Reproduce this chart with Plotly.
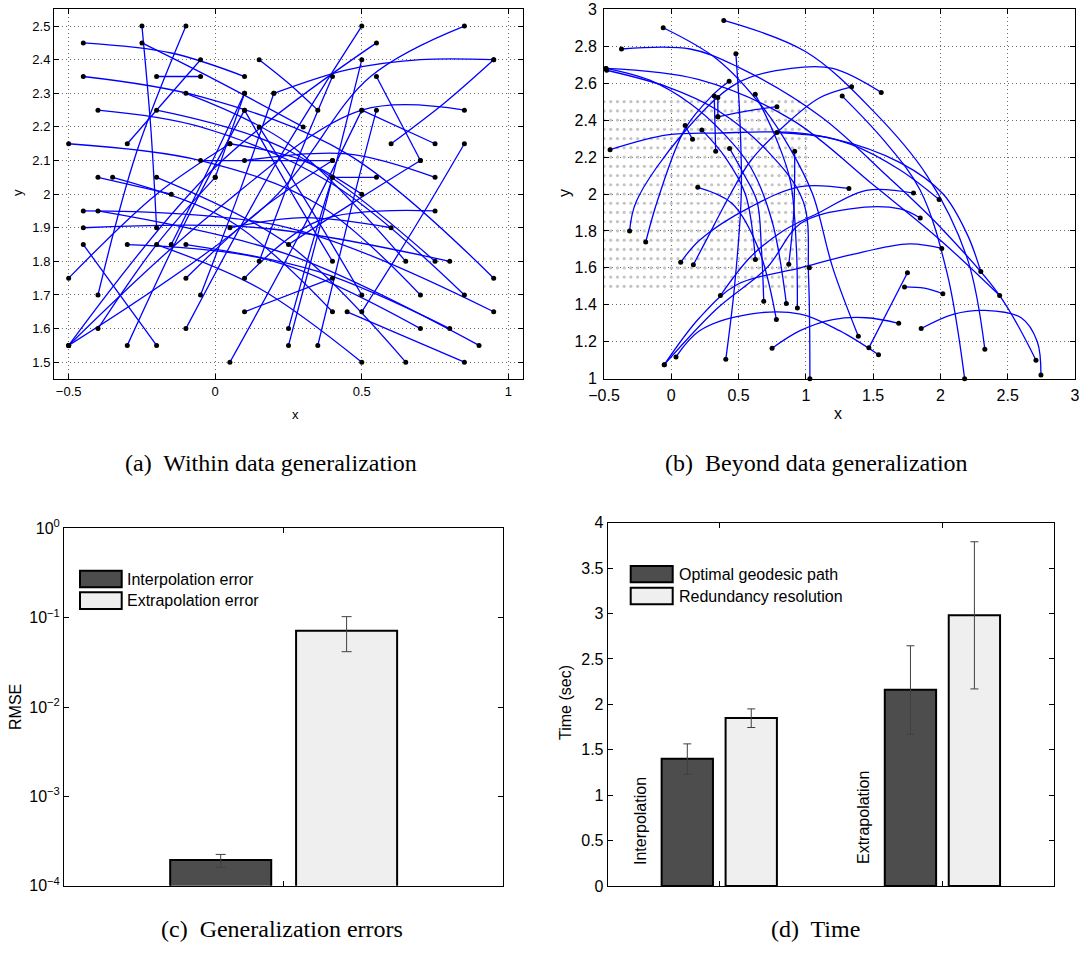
import plotly.graph_objects as go

W, H = 1085, 957

# ---------------- Panel (a): within-data generalization paths ----------------
A_PATH_X = [
    [-0.25, -0.22, -0.2], [-0.1, -0.27, -0.4], [-0.45, -0.15, 0.1], [-0.25, 0.0, 0.3],
    [0.15, 0.25, 0.35], [-0.2, -0.05], [-0.3, -0.05], [-0.45, -0.05, 0.45, 0.95],
    [-0.1, 0.25, 0.65], [0.1, 0.0], [0.2, 0.45, 0.7, 0.95], [-0.4, -0.05, 0.4, 0.85],
    [-0.2, 0.25, 0.75], [0.1, 0.25, 0.4], [0.15, 0.33, 0.5], [-0.5, -0.05, 0.35, 0.7],
    [-0.05, 0.15, 0.4], [-0.4, -0.15], [-0.35, 0.05, 0.4], [-0.2, 0.25, 0.65],
    [0.25, 0.38, 0.5], [0.35, 0.47, 0.55], [0.55, 0.7], [0.95, 0.78, 0.6],
    [0.5, 0.75], [-0.5, 0.0, 0.5, 0.85], [-0.5, 0.19, 0.53, 0.85], [-0.5, 0.0, 0.55],
    [0.85, 0.68, 0.5], [-0.45, 0.15, 0.8], [0.4, 0.55], [0.1, 0.4],
    [0.1, 0.35, 0.75], [0.15, 0.28, 0.4], [0.05, 0.3, 0.6], [0.05, 0.3, 0.5],
    [-0.1, 0.15, 0.4], [-0.1, 0.2, 0.5], [-0.5, -0.2, 0.05], [-0.45, 0.25, 0.95],
    [-0.4, 0.25, 0.9], [-0.45, -0.2], [-0.3, 0.2, 0.7], [-0.15, -0.02, 0.1],
    [-0.1, 0.35, 0.8], [-0.2, 0.15, 0.5], [0.25, 0.48, 0.7], [-0.4, -0.2, 0.0],
    [-0.3, -0.1, 0.1], [0.25, 0.33, 0.4], [0.45, 0.85], [-0.05, 0.08, 0.2],
    [0.05, 0.3, 0.5], [0.1, 0.45, 0.75],
]
A_PATH_Y = [
    [2.5, 2.2, 1.9], [2.5, 2.12, 1.7], [2.45, 2.42, 2.35], [2.45, 2.34, 2.2],
    [2.4, 2.33, 2.25], [2.35, 2.35], [2.15, 2.4], [2.35, 2.29, 2.12, 1.75],
    [2.3, 2.15, 1.8], [2.3, 2.05], [2.3, 2.37, 2.4, 2.4], [2.25, 2.2, 2.03, 1.7],
    [2.25, 2.13, 1.8], [2.25, 2.02, 1.8], [2.2, 1.95, 1.7], [2.15, 2.1, 1.97, 1.7],
    [2.1, 2.1, 2.1], [2.05, 2.0], [2.05, 1.92, 1.65], [2.05, 1.85, 1.5],
    [1.55, 1.98, 2.4], [1.55, 1.98, 2.25], [2.35, 2.1], [2.4, 2.27, 2.15],
    [2.25, 2.15], [1.55, 1.95, 2.25, 2.25], [1.55, 1.98, 2.35, 2.5], [1.55, 2.08, 2.45],
    [2.15, 1.9, 1.65], [1.9, 1.9, 1.8], [2.05, 2.05], [1.65, 1.75],
    [1.75, 1.92, 1.95], [1.8, 2.1, 2.35], [1.9, 1.93, 1.9], [1.5, 1.9, 2.25],
    [1.75, 1.95, 2.1], [1.6, 2.08, 2.5], [1.75, 2.0, 2.15], [1.95, 1.9, 1.65],
    [1.95, 1.82, 1.55], [1.85, 1.55], [1.85, 1.8, 1.6], [1.85, 2.08, 2.3],
    [1.85, 1.77, 1.6], [1.85, 1.72, 1.5], [1.85, 1.98, 2.1], [1.6, 1.85, 2.05],
    [1.55, 1.92, 2.25], [1.6, 1.85, 2.05], [1.65, 1.5], [1.7, 2.0, 2.3],
    [2.15, 2.1, 2.0], [2.1, 2.12, 2.05],
]

# ---------------- Panel (b): beyond-data generalization paths ----------------
B_PATH_X = [
    [0.39, 1.0, 1.5, 1.9, 2.2, 2.33],
    [-0.06, 0.34, 0.69, 0.88, 1.05, 1.2, 1.39],
    [-0.37, 0.14, 0.49, 1.11, 1.6, 2.0, 2.44, 2.71],
    [-0.48, -0.03, 0.34, 0.71, 0.98, 1.02, 1.03],
    [-0.485, -0.16, 0.14, 0.39, 0.59, 0.75, 0.855],
    [-0.455, -0.03, 0.34, 0.96, 1.33, 1.70, 1.99],
    [-0.31, -0.26, 0.09, 0.49, 0.89, 1.2, 1.56],
    [-0.19, -0.1, 0.1, 0.3, 0.43],
    [0.07, 0.21, 0.59, 0.96, 1.32],
    [0.164, 0.26, 0.44, 0.59, 0.84, 1.1, 1.34],
    [1.27, 1.58, 1.85, 2.05, 2.18],
    [0.346, 0.57, 0.785],
    [0.319, 0.33],
    [0.48, 0.51, 0.52, 0.47, 0.405],
    [0.624, 0.785, 0.885, 0.93, 0.937],
    [0.785, 1.2, 1.7, 2.02, 2.2, 2.30],
    [0.917, 0.91, 0.873],
    [0.433, 0.537, 0.637, 0.67, 0.687],
    [0.227, 0.4, 0.55, 0.625],
    [0.103, 0.158],
    [0.197, 0.45, 0.65, 0.781],
    [0.346, 0.346],
    [0.365, 0.59, 0.83, 1.1, 1.45, 1.80],
    [-0.052, 0.34, 0.71, 0.96, 1.33, 1.70, 1.85],
    [-0.052, 0.21, 0.49, 0.96, 1.33, 1.77, 2.01],
    [0.035, 0.21, 0.585, 0.96, 1.25, 1.54],
    [0.749, 0.957, 1.2, 1.45, 1.69],
    [1.468, 1.755],
    [1.733, 1.88, 2.018],
    [1.857, 2.1, 2.33, 2.6, 2.72, 2.747],
    [-0.485, 0.2, 0.9, 1.5, 2.0, 2.44],
]
B_PATH_Y = [
    [2.94, 2.77, 2.45, 2.1, 1.65, 1.16],
    [2.90, 2.73, 2.46, 2.25, 2.0, 1.6, 1.23],
    [2.785, 2.785, 2.69, 2.42, 2.1, 1.82, 1.45, 1.10],
    [2.67, 2.58, 2.455, 2.236, 1.96, 1.55, 1.0],
    [2.68, 2.616, 2.49, 2.327, 2.145, 1.85, 1.407],
    [2.24, 2.32, 2.33, 2.33, 2.27, 2.13, 1.97],
    [1.80, 1.96, 2.33, 2.6, 2.68, 2.68, 2.55],
    [1.74, 1.97, 2.35, 2.53, 2.61],
    [1.63, 1.75, 1.93, 2.04, 2.03],
    [1.617, 1.75, 2.0, 2.18, 2.37, 2.52, 2.58],
    [2.53, 2.29, 2.02, 1.57, 1.0],
    [2.418, 2.45, 2.473],
    [2.531, 2.231],
    [2.76, 2.4, 2.0, 1.5, 1.105],
    [2.54, 2.29, 2.07, 1.7, 1.383],
    [2.333, 2.3, 2.17, 2.0, 1.78, 1.58],
    [2.231, 1.9, 1.62],
    [2.247, 2.11, 1.96, 1.7, 1.42],
    [2.347, 2.2, 2.0, 1.646],
    [2.371, 2.296],
    [2.036, 1.95, 1.7, 1.32],
    [2.522, 2.418],
    [1.45, 1.66, 1.80, 1.9, 2.02, 2.005],
    [1.076, 1.38, 1.6, 1.84, 1.92, 1.92, 1.87],
    [1.076, 1.33, 1.51, 1.6, 1.67, 1.73, 1.705],
    [1.118, 1.26, 1.35, 1.35, 1.26, 1.13],
    [1.165, 1.26, 1.32, 1.33, 1.30],
    [1.167, 1.574],
    [1.497, 1.49, 1.46],
    [1.272, 1.35, 1.37, 1.33, 1.2, 1.02],
    [2.68, 2.62, 2.4, 2.05, 1.75, 1.45],
]
B_EXTRA_DOT_X = [1.026]
B_EXTRA_DOT_Y = [1.601]

# training-data grid shown in grey in panel (b)
GRID_X = [-0.5, -0.45, -0.4, -0.35, -0.3, -0.25, -0.2, -0.15, -0.1, -0.05, 0.0,
          0.05, 0.1, 0.15, 0.2, 0.25, 0.3, 0.35, 0.4, 0.45, 0.5, 0.55, 0.6, 0.65,
          0.7, 0.75, 0.8, 0.85, 0.9, 0.95, 1.0]
GRID_Y = [1.5, 1.55, 1.6, 1.65, 1.7, 1.75, 1.8, 1.85, 1.9, 1.95, 2.0, 2.05, 2.1,
          2.15, 2.2, 2.25, 2.3, 2.35, 2.4, 2.45, 2.5]

# ---------------- Panel (c): RMSE ----------------
C_SERIES = ["Interpolation error", "Extrapolation error"]
C_VALUES = [1.94e-4, 0.0715]
C_ERR_PLUS = [0.30e-4, 0.0311]
C_ERR_MINUS = [0.33e-4, 0.0299]
C_YTICK_VALS = [1e-4, 1e-3, 1e-2, 1e-1, 1e0]
C_YTICK_TEXT = ["10<sup>−4</sup>", "10<sup>−3</sup>", "10<sup>−2</sup>",
                "10<sup>−1</sup>", "10<sup>0</sup>"]

# ---------------- Panel (d): Time ----------------
D_GROUPS = ["Interpolation", "Extrapolation"]
D_SERIES = ["Optimal geodesic path", "Redundancy resolution"]
D_GEO = [1.40, 2.16]
D_GEO_PLUS = [0.165, 0.485]
D_GEO_MINUS = [0.17, 0.49]
D_RED = [1.85, 2.98]
D_RED_PLUS = [0.10, 0.81]
D_RED_MINUS = [0.105, 0.81]

DARK = "#4d4d4d"
LIGHT = "#efefef"
BLUE = "#0000ff"


def px(x):
    return x / W


def py(y):
    return 1 - y / H


fig = go.Figure()

# panel (a) curves
for xs, ys in zip(A_PATH_X, A_PATH_Y):
    fig.add_trace(go.Scatter(x=xs, y=ys, mode="lines", line=dict(color=BLUE, width=1.3, shape="spline"),
                             xaxis="x", yaxis="y", showlegend=False, hoverinfo="skip"))
a_dx = [p for xs in A_PATH_X for p in (xs[0], xs[-1])]
a_dy = [p for ys in A_PATH_Y for p in (ys[0], ys[-1])]
fig.add_trace(go.Scatter(x=a_dx, y=a_dy, mode="markers", marker=dict(color="black", size=5),
                         xaxis="x", yaxis="y", showlegend=False, cliponaxis=False))

# panel (b) grey grid
gx = [x for y in GRID_Y for x in GRID_X]
gy = [y for y in GRID_Y for x in GRID_X]
fig.add_trace(go.Scatter(x=gx, y=gy, mode="markers", marker=dict(color="#c4c4c4", size=3.2),
                         xaxis="x2", yaxis="y2", showlegend=False, hoverinfo="skip"))
for xs, ys in zip(B_PATH_X, B_PATH_Y):
    fig.add_trace(go.Scatter(x=xs, y=ys, mode="lines", line=dict(color=BLUE, width=1.3, shape="spline"),
                             xaxis="x2", yaxis="y2", showlegend=False, hoverinfo="skip"))
b_dx = [p for xs in B_PATH_X for p in (xs[0], xs[-1])] + B_EXTRA_DOT_X
b_dy = [p for ys in B_PATH_Y for p in (ys[0], ys[-1])] + B_EXTRA_DOT_Y
fig.add_trace(go.Scatter(x=b_dx, y=b_dy, mode="markers", marker=dict(color="black", size=5),
                         xaxis="x2", yaxis="y2", showlegend=False, cliponaxis=False))

# panel (c) bars
BAR_W = 0.23
OFF = 0.1433
for i, (name, col) in enumerate(zip(C_SERIES, [DARK, LIGHT])):
    fig.add_trace(go.Bar(
        x=[1], y=[C_VALUES[i]], width=[BAR_W], offset=[(-OFF if i == 0 else OFF) - BAR_W / 2],
        marker=dict(color=col, line=dict(color="black", width=2)),
        error_y=dict(type="data", array=[C_ERR_PLUS[i]], arrayminus=[C_ERR_MINUS[i]],
                     color="#404040", thickness=1, width=5),
        xaxis="x3", yaxis="y3", showlegend=False, name=name))

# panel (d) bars
for i, (name, col, vals, ep, em) in enumerate(zip(
        D_SERIES, [DARK, LIGHT], [D_GEO, D_RED], [D_GEO_PLUS, D_RED_PLUS], [D_GEO_MINUS, D_RED_MINUS])):
    fig.add_trace(go.Bar(
        x=[1, 2], y=vals, width=[BAR_W] * 2,
        offset=[(-OFF if i == 0 else OFF) - BAR_W / 2] * 2,
        marker=dict(color=col, line=dict(color="black", width=2)),
        error_y=dict(type="data", array=ep, arrayminus=em, color="#404040", thickness=1, width=4),
        xaxis="x4", yaxis="y4", showlegend=False, name=name))

axis_common = dict(showline=True, linecolor="black", linewidth=1, mirror="ticks",
                   ticks="inside", ticklen=5, tickcolor="black", zeroline=False,
                   automargin=False)
grid_common = dict(showgrid=True, gridcolor="#6a6a6a", griddash="1px,3px", gridwidth=1)

fig.update_layout(
    width=W, height=H, margin=dict(l=0, r=0, t=0, b=0, pad=0, autoexpand=False),
    paper_bgcolor="white", plot_bgcolor="white",
    font=dict(family="Liberation Sans, Arial, sans-serif", color="black"),
    barmode="overlay", showlegend=False,
    xaxis=dict(domain=[px(54), px(523)], range=[-0.55, 1.05], anchor="y",
               tickvals=[-0.5, 0, 0.5, 1], ticktext=["−0.5", "0", "0.5", "1"],
               tickfont=dict(size=13), **axis_common, **grid_common),
    yaxis=dict(domain=[py(379), py(9.3)], range=[1.45, 2.55], anchor="x",
               dtick=0.1, tick0=1.5, tickfont=dict(size=13), **axis_common, **grid_common),
    xaxis2=dict(domain=[px(604), px(1075)], range=[-0.5, 3], anchor="y2", dtick=0.5,
                tickfont=dict(size=16), ticklabelstandoff=2, **axis_common, **grid_common),
    yaxis2=dict(domain=[py(378.7), py(9.3)], range=[1, 3], anchor="x2", dtick=0.2,
                tickfont=dict(size=16), ticklabelstandoff=3, **axis_common, **grid_common),
    xaxis3=dict(domain=[px(64), px(503.3)], range=[0.5, 1.5], anchor="y3",
                tickvals=[1], showticklabels=False, showgrid=False, **axis_common),
    yaxis3=dict(domain=[py(885.7), py(528.3)], type="log", range=[-4, 0], anchor="x3",
                tickvals=C_YTICK_VALS, ticktext=C_YTICK_TEXT, tickfont=dict(size=16),
                showgrid=False, **axis_common),
    xaxis4=dict(domain=[px(607.7), px(1054)], range=[0.5, 2.5], anchor="y4",
                tickvals=[1, 2], showticklabels=False, showgrid=False, **axis_common),
    yaxis4=dict(domain=[py(886), py(522.7)], range=[0, 4], anchor="x4", dtick=0.5,
                tickfont=dict(size=16), showgrid=False, **axis_common),
)

ann = []
shapes = []
# axis titles
ann.append(dict(x=px(295), y=py(414), text="x", font=dict(size=13)))
ann.append(dict(x=px(17), y=py(193), text="y", font=dict(size=13), textangle=-90))
ann.append(dict(x=px(838), y=py(413), text="x", font=dict(size=16)))
ann.append(dict(x=px(564), y=py(193), text="y", font=dict(size=16), textangle=-90))
ann.append(dict(x=px(15), y=py(707), text="RMSE", font=dict(size=16), textangle=-90))
ann.append(dict(x=px(565), y=py(703), text="Time (sec)", font=dict(size=16), textangle=-90))
# group labels in (d)
ann.append(dict(x=px(640), y=py(821), text=D_GROUPS[0], font=dict(size=16), textangle=-90))
ann.append(dict(x=px(863), y=py(818), text=D_GROUPS[1], font=dict(size=16), textangle=-90))

# manual legends
def legend(x0, x1, rows, texts, tx):
    for (y0, y1), col, t in zip(rows, [DARK, LIGHT], texts):
        shapes.append(dict(type="rect", xref="paper", yref="paper", x0=px(x0), x1=px(x1),
                           y0=py(y1), y1=py(y0), fillcolor=col, line=dict(color="black", width=2)))
        ann.append(dict(x=px(tx), y=py((y0 + y1) / 2), text=t, xanchor="left",
                        font=dict(size=16)))

legend(80, 121.7, [(570.7, 587.3), (592.3, 609)], C_SERIES, 125)
legend(630.7, 672.7, [(566, 582.3), (587.7, 604.3)], D_SERIES, 677)

# captions
cap_font = dict(family="Liberation Serif, Times New Roman, serif", size=24)
ann.append(dict(x=px(271), y=py(463), text="(a)  Within data generalization", font=cap_font))
ann.append(dict(x=px(816), y=py(463), text="(b)  Beyond data generalization", font=cap_font))
ann.append(dict(x=px(282), y=py(929), text="(c)  Generalization errors", font=cap_font))
ann.append(dict(x=px(815), y=py(929), text="(d)  Time", font=cap_font))

for a in ann:
    a.setdefault("xref", "paper")
    a.setdefault("yref", "paper")
    a.setdefault("showarrow", False)
    a.setdefault("xanchor", "center")
    a.setdefault("yanchor", "middle")

fig.update_layout(annotations=ann, shapes=shapes)
fig.write_html("out.html")
